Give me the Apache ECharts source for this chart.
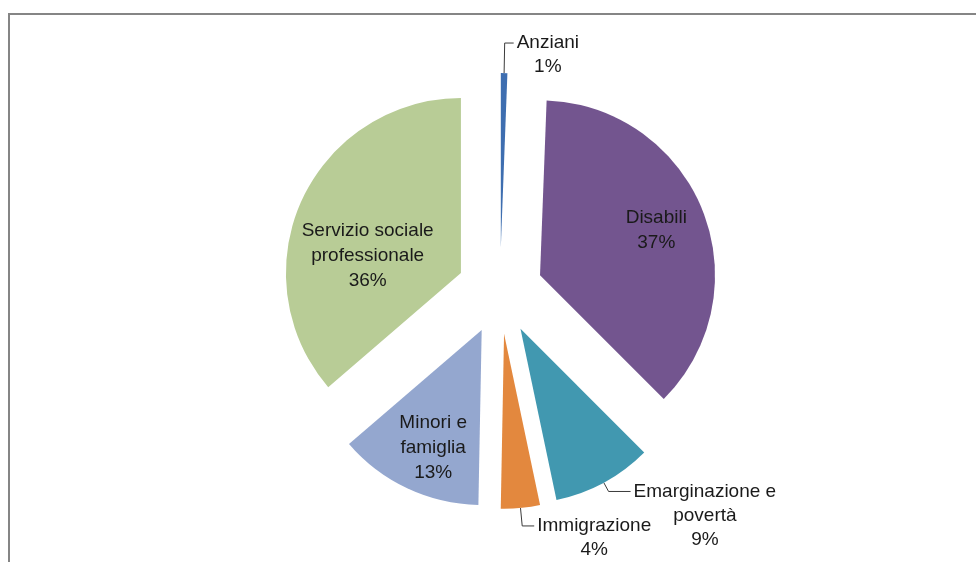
<!DOCTYPE html>
<html>
<head>
<meta charset="utf-8">
<script src="https://cdn.jsdelivr.net/npm/echarts@6/dist/echarts.min.js"></script>
<style>
	html, body { margin: 0; padding: 0; background: #fff; overflow: hidden; }
	#frame {
		position: absolute; left: 8px; top: 13px; width: 1000px; height: 600px;
		border-left: 2px solid #858585; border-top: 2px solid #858585;
	}
	#pie { position: absolute; left: 0; top: 0; width: 976px; height: 562px; }
</style>
</head>
<body>
<div id="frame"></div>
<div id="pie"></div>
<script>
	// categories as printed on the chart (line breaks where the labels wrap)
	var categories = ['Anziani', 'Disabili', 'Emarginazione e\npovertà', 'Immigrazione', 'Minori e\nfamiglia', 'Servizio sociale\nprofessionale']
	// shares (%)
	var values = [0.6, 36.9, 9.2, 3.6, 13.4, 36.3]
	var colors = ['#3E6EB0', '#73558F', '#4198B0', '#E3883E', '#94A7CF', '#B8CC96']

	var font = 'Liberation Sans'
	var textColor = '#1a1a1a'

	// outside label: blank lines on top so the leader line meets the first text line
	function outsideFormatter(blanks) {
		return function (p) {
			var lines = []
			for (var i = 0; i < blanks; i++) lines.push('{c| }')
			p.name.split('\n').forEach(function (s) { lines.push('{c|' + s + '}') })
			lines.push('{c|' + p.percent + '%}')
			return lines.join('\n')
		}
	}

	function outside(blanks, len1, len2) {
		return {
			label: {
				position: 'outside',
				formatter: outsideFormatter(blanks),
				distanceToLabelLine: 3,
				rich: { c: { align: 'center', fontSize: 19, lineHeight: 24, fontFamily: font, color: textColor } }
			},
			labelLine: { show: true, length: len1, length2: len2, lineStyle: { color: '#3a3a3a', width: 1 } }
		}
	}

	function inside() {
		return {
			label: { position: 'inside', formatter: '{b}\n{d}%' },
			labelLine: { show: false }
		}
	}

	var itemSetup = [
		outside(1, 30, 9),
		inside(),
		outside(2, 10, 22),
		outside(1, 18, 12),
		inside(),
		inside()
	]
	// nudges for the inside labels (Excel puts them off the half radius)
	var labelShift = [null, [32, -12], null, null, [-10, 36], [-11, 20]]

	var pieData = categories.map(function (name, i) {
		return Object.assign({
			name: name,
			value: values[i],
			selected: true,
			itemStyle: { color: colors[i] }
		}, itemSetup[i])
	})

	var chart = echarts.init(document.getElementById('pie'), null, { renderer: 'canvas' })
	chart.setOption({
		animation: false,
		series: [{
			type: 'pie',
			center: [500, 291],
			radius: 175,
			startAngle: 90,
			clockwise: true,
			selectedMode: 'multiple',
			selectedOffset: 43,
			percentPrecision: 0,
			avoidLabelOverlap: false,
			emphasis: { disabled: true },
			label: {
				fontSize: 19,
				lineHeight: 25,
				fontFamily: font,
				color: textColor
			},
			labelLayout: function (params) {
				var s = labelShift[params.dataIndex]
				if (!s) return { hideOverlap: false }
				return { hideOverlap: false, dx: s[0], dy: s[1] }
			},
			itemStyle: { borderWidth: 0 },
			data: pieData
		}]
	})
</script>
</body>
</html>
